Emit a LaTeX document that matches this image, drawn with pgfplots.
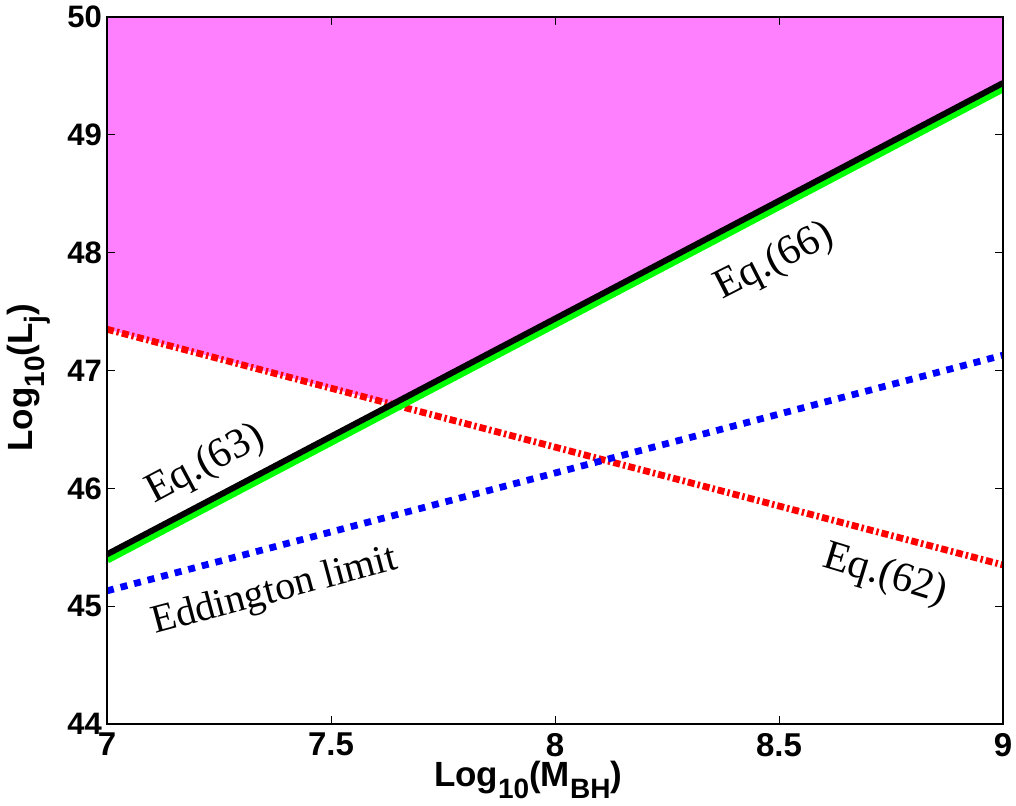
\documentclass[border=0pt]{standalone}
\usepackage{pgfplots}
\pgfplotsset{compat=1.18}
\usepackage{fontspec}
\setmainfont{Liberation Sans}
\newfontfamily\tms{Liberation Serif}
\definecolor{FillMag}{HTML}{FF80FF}
\definecolor{LineGreen}{HTML}{00FF00}
\definecolor{LineRed}{HTML}{FF0000}
\definecolor{LineBlue}{HTML}{0000FF}

\begin{document}
\begin{tikzpicture}
  \path[use as bounding box] (-53.5pt,-40.5pt) rectangle (454.5pt,362pt);
  \begin{axis}[
    at={(0,0)}, anchor=south west,
    scale only axis, width=448pt, height=353.5pt,
    xmin=7, xmax=9, ymin=44, ymax=50,
    xtick={7,7.5,8,8.5,9}, ytick={44,45,46,47,48,49,50},
    xticklabels={7,7.5,8,8.5,9},
    yticklabels={44,45,46,47,48,49,50},
    tick align=inside, major tick length=4pt,
    tick style={black, line width=0.5pt},
    axis line style={black, line width=0.9pt},
    xticklabel style={font=\fontsize{16.5}{16.5}\selectfont\bfseries, yshift=-1pt},
    yticklabel style={font=\fontsize{15.5}{15.5}\selectfont\bfseries, xshift=1pt},
    /pgf/number format/assume math mode=true,
    axis on top,
    xlabel={Log\raisebox{-0.35em}{\fontsize{14}{14}\selectfont 10}(M\raisebox{-0.35em}{\fontsize{14}{14}\selectfont BH})},
    ylabel={Log\raisebox{-0.35em}{\fontsize{14}{14}\selectfont 10}(L\raisebox{-0.35em}{\fontsize{14}{14}\selectfont j})},
    label style={font=\fontsize{17.5}{17.5}\selectfont\bfseries},
    xlabel style={at={(axis description cs:0.47,0)}, anchor=base, yshift=-31pt},
    ylabel style={at={(axis description cs:0,0.49)}, anchor=center, yshift=39pt},
  ]
    % allowed region
    \addplot[fill=FillMag, draw=none]
      coordinates {(7,50) (7,47.35) (7.633,46.717) (9,49.45) (9,50)} -- cycle;
    % Eq.(62)
    \addplot[LineRed, line width=3.4pt, dash pattern=on 3.5pt off 1.5pt on 1.2pt off 1.5pt]
      coordinates {(7,47.35) (9,45.35)};
    % Eddington limit
    \addplot[LineBlue, line width=3.4pt, dash pattern=on 3.5pt off 3.5pt]
      coordinates {(7,45.13) (9,47.13)};
    % Eq.(63)/(66)
    \addplot[LineGreen, line width=4.5pt]
      coordinates {(7,45.40) (9,49.40)};
    \addplot[black, line width=3pt]
      coordinates {(7,45.44) (9,49.44)};

    \node[font=\tms\fontsize{21}{21}\selectfont, rotate=28] at (axis cs:7.22,46.2) {Eq.(63)};
    \node[font=\tms\fontsize{21}{21}\selectfont, rotate=27] at (axis cs:8.49,47.92) {Eq.(66)};
    \node[font=\tms\fontsize{20}{20}\selectfont, rotate=15] at (axis cs:7.375,45.12) {Eddington limit};
    \node[font=\tms\fontsize{21}{21}\selectfont, rotate=-17] at (axis cs:8.737,45.26) {Eq.(62)};
  \end{axis}
\end{tikzpicture}
\end{document}
